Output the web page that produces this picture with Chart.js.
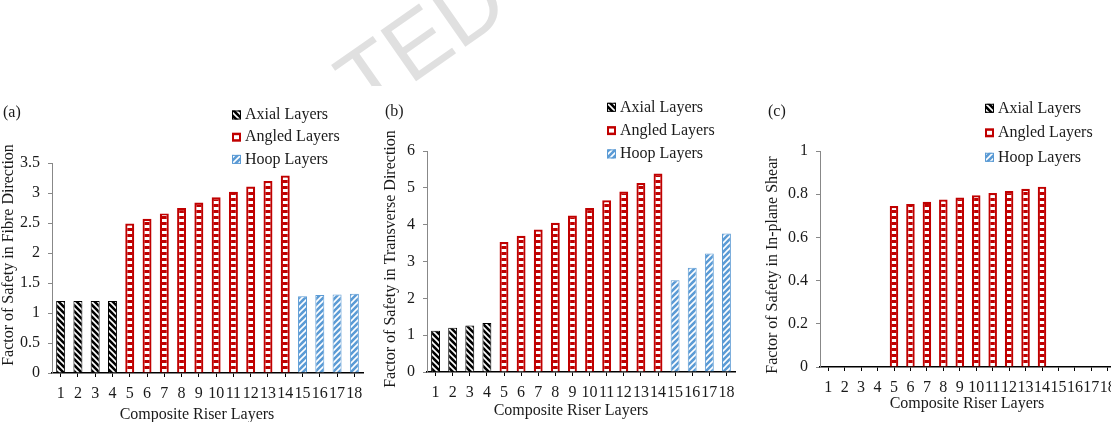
<!DOCTYPE html>
<html><head><meta charset="utf-8">
<script src="https://cdn.jsdelivr.net/npm/chart.js@4.4.1/dist/chart.umd.min.js"></script>
<style>
html,body{margin:0;padding:0;width:1111px;height:422px;overflow:hidden;background:#fff;}
canvas{position:absolute;top:0;}
#wm{left:0;z-index:0;}
#ca,#cb,#cc{z-index:1;}
</style></head>
<body>
<canvas id="wm" width="1111" height="422"></canvas>
<canvas id="ca" width="372" height="422" style="left:0px"></canvas>
<canvas id="cb" width="373" height="422" style="left:372px"></canvas>
<canvas id="cc" width="380" height="422" style="left:750px"></canvas>
<script>
// ---- data ----
const layers = ['1','2','3','4','5','6','7','8','9','10','11','12','13','14','15','16','17','18'];
const seriesNames = ['Axial Layers','Angled Layers','Hoop Layers'];
const fibreAxial  = [1.2, 1.2, 1.2, 1.2];
const fibreAngled = [2.49, 2.57, 2.66, 2.75, 2.84, 2.93, 3.02, 3.11, 3.20, 3.29];
const fibreHoop   = [1.28, 1.30, 1.31, 1.32];
const transAxial  = [1.12, 1.20, 1.26, 1.33];
const transAngled = [3.53, 3.70, 3.87, 4.05, 4.25, 4.45, 4.66, 4.90, 5.13, 5.39];
const transHoop   = [2.49, 2.83, 3.22, 3.76];
const shearAxial  = [null, null, null, null];
const shearAngled = [0.745, 0.755, 0.765, 0.775, 0.785, 0.795, 0.805, 0.815, 0.825, 0.835];
const shearHoop   = [null, null, null, null];
const fibreTicks = [0, 0.5, 1, 1.5, 2, 2.5, 3, 3.5];
const transTicks = [0, 1, 2, 3, 4, 5, 6];
const shearTicks = [0, 0.2, 0.4, 0.6, 0.8, 1];

const SERIF = '"Liberation Serif", "Times New Roman", serif';
const RED = '#C00000', BLUE = '#5B9BD5';

// ---- watermark: only the visible tail of "ACCEPTED MANUSCRIPT" ----
(function(){
  const c = document.getElementById('wm').getContext('2d');
  c.font = '90px "Liberation Sans", Arial, sans-serif';
  c.fillStyle = '#e0e0e0';
  c.translate(365, 117);
  c.rotate(-35 * Math.PI / 180);
  c.fillText('TED MANUSCRIPT', 0, 0);
})();

// ---- patterns ----
function makePattern(kind){
  const t = document.createElement('canvas');
  const s = 6; t.width = s; t.height = s;
  const g = t.getContext('2d');
  if (kind === 'angled') {
    g.fillStyle = RED; g.fillRect(0,0,s,s);
    g.fillStyle = '#fff'; g.fillRect(0,3,s,3);
  } else {
    g.fillStyle = kind === 'axial' ? '#000' : BLUE; g.fillRect(0,0,s,s);
    g.strokeStyle = '#fff'; g.lineWidth = 1.6;
    g.beginPath();
    if (kind === 'axial') {
      g.moveTo(-1,-1); g.lineTo(s+1,s+1);
      g.moveTo(-1,s-1); g.lineTo(1,s+1);
      g.moveTo(s-1,-1); g.lineTo(s+1,1);
    } else {
      g.moveTo(-1,s+1); g.lineTo(s+1,-1);
      g.moveTo(-1,1); g.lineTo(1,-1);
      g.moveTo(s-1,s+1); g.lineTo(s+1,s-1);
    }
    g.stroke();
  }
  return g.createPattern(t, 'repeat');
}
const PAT = {axial: makePattern('axial'), angled: makePattern('angled'), hoop: makePattern('hoop')};

function place(vals, start){
  const arr = new Array(layers.length).fill(null);
  vals.forEach((v,i)=>{ arr[start+i] = v; });
  return arr;
}

// ---- white chart background + text / legend plugin ----
const panelText = {
  id: 'panelText',
  beforeDraw(chart, args, o){
    const c = chart.ctx;
    c.save();
    c.fillStyle = '#fff';
    c.fillRect(0, o.bgTop, chart.width, chart.height - o.bgTop);
    c.restore();
  },
  afterDraw(chart, args, o){
    const c = chart.ctx;
    c.save();
    c.fillStyle = '#1a1a1a';
    c.font = '16px ' + SERIF;
    c.textBaseline = 'middle';
    c.textAlign = 'left';
    c.fillText(o.label, o.lx, o.ly);
    c.textAlign = 'center';
    c.fillText(o.xtitle, o.xx, o.xy);
    c.save();
    c.translate(o.yx, o.yy);
    c.rotate(-Math.PI/2);
    c.fillText(o.ytitle, 0, 0);
    c.restore();
    const kinds = ['axial','angled','hoop'];
    const cols = ['#000', RED, BLUE];
    kinds.forEach((k,i)=>{
      const y = o.legY + i*o.legDy;
      const bx = o.legX, by = y - 4.5, bs = 9;
      if (k === 'angled') {
        c.fillStyle = RED; c.fillRect(bx, by, bs, bs);
        c.fillStyle = '#fff'; c.fillRect(bx+2, by+2.5, bs-4, bs-5);
      } else {
        c.fillStyle = PAT[k]; c.fillRect(bx, by, bs, bs);
        c.strokeStyle = cols[i]; c.lineWidth = 1; c.strokeRect(bx+0.5, by+0.5, bs-1, bs-1);
      }
      c.fillStyle = '#1a1a1a';
      c.textAlign = 'left';
      c.fillText(seriesNames[i], o.legX + 13, y);
    });
    c.restore();
  }
};

function makeChart(id, cfg){
  const datasets = [
    {label: seriesNames[0], data: place(cfg.axial, 0), backgroundColor: PAT.axial, borderColor: '#000', borderWidth: 1},
    {label: seriesNames[1], data: place(cfg.angled, 4), backgroundColor: PAT.angled, borderColor: RED, borderWidth: 2.2},
    {label: seriesNames[2], data: place(cfg.hoop, 14), backgroundColor: PAT.hoop, borderColor: BLUE, borderWidth: 1}
  ].map(d => Object.assign(d, {grouped: false, barPercentage: 0.52, categoryPercentage: 1, borderSkipped: 'start'}));
  const ticksArr = cfg.ticks;
  return new Chart(document.getElementById(id), {
    type: 'bar',
    data: {labels: layers, datasets},
    options: {
      responsive: false, animation: false, events: [],
      layout: {padding: {left: cfg.padL, right: cfg.padR, top: cfg.padT, bottom: 0}},
      plugins: {legend: {display: false}, tooltip: {enabled: false}, panelText: cfg.text},
      scales: {
        x: {
          offset: true,
          grid: {display: true, drawOnChartArea: false, drawTicks: true, tickLength: 4, offset: false, color: '#000'},
          border: {display: true, color: '#000', width: 1.5},
          ticks: {autoSkip: false, maxRotation: 0, minRotation: 0, padding: 7, color: '#1a1a1a', font: {family: SERIF, size: 16}},
          afterFit: s => { s.height = cfg.xH; }
        },
        y: {
          min: ticksArr[0], max: ticksArr[ticksArr.length-1],
          afterBuildTicks: s => { s.ticks = ticksArr.map(v => ({value: v})); },
          grid: {display: true, drawOnChartArea: false, drawTicks: true, tickLength: 4, color: '#888'},
          border: {display: true, color: '#888', width: 1},
          ticks: {padding: 8, color: '#1a1a1a', font: {family: SERIF, size: 16}, callback: v => String(+Number(v).toFixed(2))},
          afterFit: s => { s.width = cfg.yW; }
        }
      }
    },
    plugins: [panelText]
  });
}

makeChart('ca', {
  axial: fibreAxial, angled: fibreAngled, hoop: fibreHoop, ticks: fibreTicks,
  padL: 0, padR: 9, padT: 163, xH: 49, yW: 52,
  text: {bgTop: 100, label: '(a)', lx: 3, ly: 113, xtitle: 'Composite Riser Layers', xx: 197, xy: 415,
         ytitle: 'Factor of Safety in Fibre Direction', yx: 9, yy: 255, legX: 232, legY: 115, legDy: 22.2}
});
makeChart('cb', {
  axial: transAxial, angled: transAngled, hoop: transHoop, ticks: transTicks,
  padL: 3, padR: 10, padT: 151, xH: 50, yW: 52,
  text: {bgTop: 86, label: '(b)', lx: 13, ly: 112, xtitle: 'Composite Riser Layers', xx: 199, xy: 411,
         ytitle: 'Factor of Safety in Transverse Direction', yx: 19, yy: 259, legX: 235, legY: 107.3, legDy: 23.3}
});
makeChart('cc', {
  axial: shearAxial, angled: shearAngled, hoop: shearHoop, ticks: shearTicks,
  padL: 18, padR: 14, padT: 151, xH: 55, yW: 52,
  text: {bgTop: 86, label: '(c)', lx: 18, ly: 112, xtitle: 'Composite Riser Layers', xx: 217, xy: 404,
         ytitle: 'Factor of Safety in In-plane Shear', yx: 23, yy: 265, legX: 235, legY: 108.3, legDy: 24.5}
});
</script>
</body></html>
